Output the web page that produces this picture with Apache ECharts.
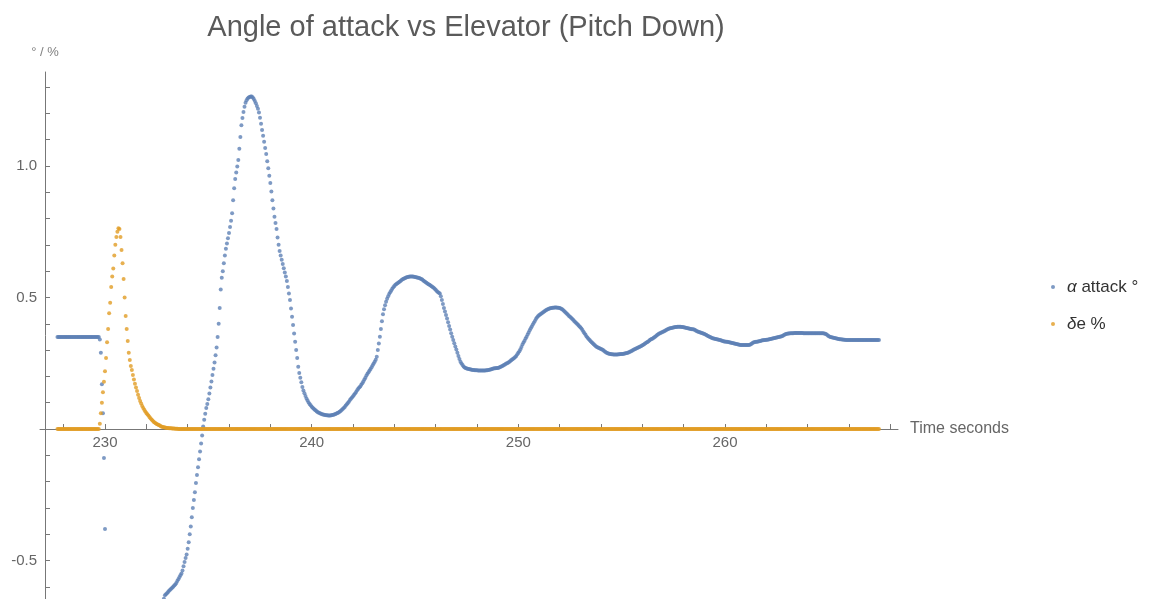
<!DOCTYPE html>
<html>
<head>
<meta charset="utf-8">
<script src="https://cdn.jsdelivr.net/npm/echarts@6/dist/echarts.min.js"></script>
<style>
  html, body { margin: 0; padding: 0; background: #ffffff; }
  #chart { width: 1168px; height: 599px; }
</style>
</head>
<body>
<div id="chart"></div>
<script>
// Logged flight data, sampled every 0.05 s from t = 227.70 s
const sampleStart = 227.7;
const sampleStep = 0.05;

// Angle of attack (degrees), one row per second
const alphaAttack = [
  0.35,0.35,0.35,0.35,0.35,0.35,
  0.35,0.35,0.35,0.35,0.35,0.35,0.35,0.35,0.35,0.35,0.35,0.35,0.35,0.35,0.35,0.35,0.35,0.35,0.35,0.35,
  0.35,0.35,0.35,0.35,0.35,0.35,0.35,0.35,0.35,0.35,0.35,0.35,0.35,0.35,0.35,0.34,0.29,0.17,0.06,-0.11,
  -0.38,-0.74,-0.90,-0.98,-1.03,-1.06,-1.08,-1.09,-1.10,-1.10,-1.10,-1.09,-1.08,-1.07,-1.06,-1.05,-1.04,-1.03,-1.02,-1.01,
  -1.00,-0.99,-0.98,-0.97,-0.96,-0.95,-0.94,-0.93,-0.92,-0.91,-0.90,-0.89,-0.88,-0.87,-0.86,-0.85,-0.84,-0.83,-0.82,-0.81,
  -0.80,-0.79,-0.78,-0.77,-0.76,-0.75,-0.74,-0.73,-0.72,-0.71,-0.70,-0.69,-0.68,-0.675,-0.67,-0.66,-0.655,-0.645,-0.632,-0.628,
  -0.624,-0.619,-0.615,-0.611,-0.607,-0.603,-0.599,-0.595,-0.591,-0.585,-0.578,-0.571,-0.563,-0.556,-0.549,-0.538,-0.522,-0.505,-0.49,-0.477,
  -0.455,-0.43,-0.40,-0.37,-0.335,-0.30,-0.27,-0.24,-0.205,-0.175,-0.145,-0.115,-0.085,-0.055,-0.025,0.01,0.035,0.058,0.08,0.095,
  0.113,0.135,0.158,0.181,0.205,0.229,0.253,0.28,0.31,0.35,0.40,0.46,0.53,0.575,0.60,0.63,0.66,0.685,0.705,0.725,
  0.745,0.768,0.792,0.82,0.87,0.915,0.95,0.975,0.998,1.023,1.065,1.11,1.155,1.182,1.205,1.225,1.24,1.25,1.256,1.26,
  1.262,1.264,1.264,1.26,1.254,1.247,1.238,1.228,1.217,1.203,1.183,1.16,1.137,1.115,1.092,1.068,1.045,1.018,0.991,0.963,
  0.935,0.903,0.87,0.838,0.807,0.783,0.76,0.728,0.70,0.677,0.66,0.643,0.627,0.611,0.595,0.58,0.563,0.54,0.515,0.49,
  0.458,0.427,0.395,0.363,0.332,0.30,0.27,0.237,0.213,0.195,0.178,0.16,0.146,0.136,0.126,0.116,0.108,0.101,0.095,0.09,
  0.085,0.081,0.077,0.073,0.07,0.067,0.064,0.062,0.06,0.058,0.056,0.055,0.054,0.053,0.052,0.052,0.051,0.051,0.051,0.052,
  0.053,0.054,0.055,0.057,0.059,0.061,0.063,0.066,0.069,0.072,0.076,0.08,0.084,0.089,0.094,0.099,0.104,0.11,0.115,0.12,
  0.125,0.13,0.135,0.141,0.147,0.153,0.158,0.162,0.168,0.174,0.181,0.188,0.195,0.203,0.21,0.216,0.222,0.228,0.235,0.242,
  0.249,0.256,0.263,0.275,0.30,0.325,0.351,0.38,0.41,0.436,0.455,0.47,0.484,0.495,0.505,0.513,0.52,0.527,0.533,0.539,
  0.544,0.548,0.551,0.554,0.557,0.56,0.563,0.566,0.569,0.571,0.573,0.575,0.577,0.578,0.579,0.58,0.58,0.58,0.58,0.579,
  0.578,0.577,0.576,0.575,0.574,0.572,0.57,0.568,0.565,0.562,0.559,0.556,0.553,0.55,0.548,0.546,0.543,0.54,0.537,0.533,
  0.529,0.525,0.521,0.518,0.515,0.505,0.49,0.475,0.46,0.447,0.433,0.42,0.406,0.392,0.378,0.364,0.351,0.338,0.326,0.314,
  0.302,0.29,0.278,0.266,0.256,0.249,0.243,0.238,0.234,0.232,0.23,0.229,0.228,0.227,0.226,0.225,0.224,0.224,0.223,0.223,
  0.223,0.222,0.222,0.222,0.222,0.222,0.222,0.222,0.222,0.223,0.223,0.224,0.225,0.226,0.227,0.229,0.23,0.231,0.231,0.232,
  0.232,0.233,0.235,0.237,0.239,0.241,0.243,0.245,0.248,0.25,0.252,0.255,0.258,0.261,0.264,0.267,0.27,0.274,0.278,0.284,
  0.29,0.296,0.303,0.312,0.321,0.329,0.336,0.344,0.351,0.359,0.367,0.375,0.383,0.39,0.397,0.404,0.411,0.418,0.424,0.429,
  0.432,0.435,0.438,0.441,0.444,0.447,0.45,0.452,0.454,0.456,0.458,0.459,0.46,0.461,0.461,0.462,0.462,0.462,0.461,0.461,
  0.46,0.458,0.456,0.453,0.45,0.446,0.442,0.438,0.434,0.43,0.427,0.423,0.419,0.415,0.411,0.407,0.403,0.399,0.395,0.391,
  0.387,0.382,0.376,0.37,0.364,0.358,0.352,0.347,0.342,0.338,0.334,0.33,0.326,0.322,0.318,0.315,0.312,0.31,0.308,0.306,
  0.304,0.302,0.3,0.297,0.294,0.291,0.289,0.287,0.286,0.285,0.284,0.284,0.283,0.283,0.283,0.283,0.283,0.284,0.284,0.285,
  0.285,0.285,0.286,0.287,0.288,0.289,0.29,0.292,0.294,0.296,0.298,0.3,0.302,0.304,0.306,0.308,0.31,0.312,0.314,0.316,
  0.318,0.32,0.323,0.326,0.329,0.331,0.334,0.337,0.34,0.342,0.344,0.347,0.35,0.353,0.356,0.359,0.362,0.364,0.366,0.368,
  0.37,0.372,0.374,0.376,0.378,0.38,0.382,0.383,0.384,0.385,0.386,0.387,0.388,0.388,0.389,0.389,0.389,0.389,0.388,0.388,
  0.387,0.386,0.385,0.384,0.383,0.382,0.381,0.38,0.379,0.379,0.378,0.376,0.374,0.372,0.37,0.369,0.367,0.366,0.364,0.363,
  0.361,0.359,0.357,0.355,0.353,0.351,0.349,0.347,0.345,0.344,0.343,0.342,0.341,0.34,0.339,0.338,0.337,0.336,0.335,0.333,
  0.333,0.332,0.332,0.331,0.33,0.329,0.328,0.327,0.326,0.325,0.324,0.323,0.322,0.321,0.32,0.319,0.319,0.319,0.319,0.319,
  0.319,0.319,0.319,0.319,0.32,0.322,0.325,0.328,0.33,0.331,0.332,0.332,0.333,0.334,0.335,0.336,0.337,0.337,0.338,0.338,
  0.339,0.339,0.34,0.341,0.342,0.343,0.344,0.345,0.346,0.347,0.348,0.349,0.35,0.351,0.352,0.353,0.355,0.357,0.359,0.361,
  0.362,0.363,0.363,0.364,0.364,0.364,0.364,0.365,0.365,0.365,0.365,0.365,0.365,0.365,0.365,0.365,0.364,0.364,0.364,0.364,
  0.364,0.364,0.364,0.364,0.364,0.364,0.364,0.364,0.364,0.364,0.364,0.364,0.364,0.364,0.364,0.364,0.363,0.362,0.36,0.357,
  0.354,0.352,0.35,0.349,0.348,0.347,0.346,0.345,0.344,0.343,0.342,0.341,0.341,0.34,0.34,0.339,0.339,0.338,0.338,0.338,
  0.338,0.338,0.338,0.338,0.338,0.338,0.338,0.338,0.338,0.338,0.338,0.338,0.338,0.338,0.338,0.338,0.338,0.338,0.338,0.338,
  0.338,0.338,0.338,0.338,0.338,0.338,0.338,0.338,0.338,0.338
];

// Elevator deflection (%), same sample clock
const deltaElevator = [
  0,0,0,0,0,0,
  0,0,0,0,0,0,0,0,0,0,0,0,0,0,0,0,0,0,0,0,
  0,0,0,0,0,0,0,0,0,0,0,0,0,0,0,0.02,0.06,0.10,0.14,0.18,
  0.22,0.27,0.33,0.38,0.44,0.48,0.54,0.58,0.61,0.66,0.70,0.73,0.75,0.763,0.76,0.73,0.68,0.63,0.57,0.50,
  0.43,0.38,0.335,0.29,0.262,0.24,0.224,0.205,0.188,0.172,0.158,0.145,0.13,0.118,0.107,0.097,0.088,0.08,0.073,0.067,
  0.061,0.056,0.051,0.046,0.041,0.036,0.032,0.028,0.025,0.022,0.019,0.017,0.015,0.013,0.011,0.009,0.008,0.007,0.006,0.005,
  0.004,0.004,0.003,0.003,0.003,0.002,0.002,0.002,0.001,0.001,0.001,0,0,0,0,0,0,0,0,0,
  0,0,0,0,0,0,0,0,0,0,0,0,0,0,0,0,0,0,0,0,
  0,0,0,0,0,0,0,0,0,0,0,0,0,0,0,0,0,0,0,0,
  0,0,0,0,0,0,0,0,0,0,0,0,0,0,0,0,0,0,0,0,
  0,0,0,0,0,0,0,0,0,0,0,0,0,0,0,0,0,0,0,0,
  0,0,0,0,0,0,0,0,0,0,0,0,0,0,0,0,0,0,0,0,
  0,0,0,0,0,0,0,0,0,0,0,0,0,0,0,0,0,0,0,0,
  0,0,0,0,0,0,0,0,0,0,0,0,0,0,0,0,0,0,0,0,
  0,0,0,0,0,0,0,0,0,0,0,0,0,0,0,0,0,0,0,0,
  0,0,0,0,0,0,0,0,0,0,0,0,0,0,0,0,0,0,0,0,
  0,0,0,0,0,0,0,0,0,0,0,0,0,0,0,0,0,0,0,0,
  0,0,0,0,0,0,0,0,0,0,0,0,0,0,0,0,0,0,0,0,
  0,0,0,0,0,0,0,0,0,0,0,0,0,0,0,0,0,0,0,0,
  0,0,0,0,0,0,0,0,0,0,0,0,0,0,0,0,0,0,0,0,
  0,0,0,0,0,0,0,0,0,0,0,0,0,0,0,0,0,0,0,0,
  0,0,0,0,0,0,0,0,0,0,0,0,0,0,0,0,0,0,0,0,
  0,0,0,0,0,0,0,0,0,0,0,0,0,0,0,0,0,0,0,0,
  0,0,0,0,0,0,0,0,0,0,0,0,0,0,0,0,0,0,0,0,
  0,0,0,0,0,0,0,0,0,0,0,0,0,0,0,0,0,0,0,0,
  0,0,0,0,0,0,0,0,0,0,0,0,0,0,0,0,0,0,0,0,
  0,0,0,0,0,0,0,0,0,0,0,0,0,0,0,0,0,0,0,0,
  0,0,0,0,0,0,0,0,0,0,0,0,0,0,0,0,0,0,0,0,
  0,0,0,0,0,0,0,0,0,0,0,0,0,0,0,0,0,0,0,0,
  0,0,0,0,0,0,0,0,0,0,0,0,0,0,0,0,0,0,0,0,
  0,0,0,0,0,0,0,0,0,0,0,0,0,0,0,0,0,0,0,0,
  0,0,0,0,0,0,0,0,0,0,0,0,0,0,0,0,0,0,0,0,
  0,0,0,0,0,0,0,0,0,0,0,0,0,0,0,0,0,0,0,0,
  0,0,0,0,0,0,0,0,0,0,0,0,0,0,0,0,0,0,0,0,
  0,0,0,0,0,0,0,0,0,0,0,0,0,0,0,0,0,0,0,0,
  0,0,0,0,0,0,0,0,0,0,0,0,0,0,0,0,0,0,0,0,
  0,0,0,0,0,0,0,0,0,0,0,0,0,0,0,0,0,0,0,0,
  0,0,0,0,0,0,0,0,0,0,0,0,0,0,0,0,0,0,0,0,
  0,0,0,0,0,0,0,0,0,0,0,0,0,0,0,0,0,0,0,0,
  0,0,0,0,0,0,0,0,0,0,0,0,0,0,0,0,0,0,0,0,
  0,0,0,0,0,0,0,0,0,0
];

const seriesNames = ['α attack °', 'δe %'];
const xTickLabels = [230, 240, 250, 260];
const xTicks = [228, 230, 232, 234, 236, 238, 240, 242, 244, 246, 248, 250, 252, 254, 256, 258, 260, 262, 264, 266, 268];
const yTickLabels = [-0.5, 0.5, 1.0];
const yTicks = [-0.6, -0.5, -0.4, -0.3, -0.2, -0.1, 0, 0.1, 0.2, 0.3, 0.4, 0.5, 0.6, 0.7, 0.8, 0.9, 1.0, 1.1, 1.2, 1.3];

const xMin = 226.855;
const xMax = 268.37;
const yMin = -0.646;
const yMax = 1.357;

const toPoints = vals => vals.map((v, i) => [+(sampleStart + i * sampleStep).toFixed(2), v]);

const axisGray = '#777777';
const labelGray = '#666666';
const font = '"Liberation Sans", Arial, sans-serif';

const gridLeft = 40;
const gridRight = 270;
const gridTop = 72;
const gridHeight = 527;
const gridWidth = 1168 - gridLeft - gridRight;
// the time axis sits on the y = 0 line: shift it up from the grid's bottom edge
const zeroOffset = -gridHeight * (0 - yMin) / (yMax - yMin);
// the value axis crosses the time axis a little right of its start
const crossOffset = -gridWidth * (227.097 - xMin) / (xMax - xMin);

const chart = echarts.init(document.getElementById('chart'), null, { renderer: 'canvas' });
chart.setOption({
  animation: false,
  backgroundColor: '#ffffff',
  textStyle: { fontFamily: font },
  title: {
    text: 'Angle of attack vs Elevator (Pitch Down)',
    left: 461,
    top: 8,
    textAlign: 'center',
    textStyle: { fontSize: 29, fontWeight: 'normal', color: '#5a5a5a', fontFamily: font }
  },
  legend: {
    orient: 'vertical',
    left: 1046,
    top: 272,
    itemWidth: 4,
    itemHeight: 4,
    itemGap: 17,
    icon: 'circle',
    data: seriesNames,
    formatter: name => '{i|' + name.charAt(0) + '}{t|' + name.slice(1) + '}',
    textStyle: {
      fontFamily: font,
      lineHeight: 20,
      rich: {
        i: { fontSize: 17, fontStyle: 'italic', color: '#333333', padding: [0, 0, 0, 7], fontFamily: font },
        t: { fontSize: 17, color: '#333333', fontFamily: font }
      }
    }
  },
  grid: { left: gridLeft, right: gridRight, top: gridTop, height: gridHeight, containLabel: false, outerBoundsMode: 'none' },
  xAxis: {
    type: 'value',
    min: xMin,
    max: xMax,
    offset: zeroOffset,
    name: 'Time seconds',
    nameLocation: 'end',
    nameGap: 12,
    nameTextStyle: { fontSize: 16, color: labelGray, fontFamily: font },
    axisLine: { show: true, onZero: false, lineStyle: { color: axisGray, width: 1 } },
    axisTick: { show: true, inside: true, length: 5, customValues: xTicks, lineStyle: { color: axisGray } },
    axisLabel: { show: true, margin: 6, fontSize: 15, color: labelGray, customValues: xTickLabels, formatter: v => String(v) },
    splitLine: { show: false }
  },
  yAxis: {
    type: 'value',
    min: yMin,
    max: yMax,
    offset: crossOffset,
    name: '° / %',
    nameLocation: 'end',
    nameGap: 13,
    nameTextStyle: { fontSize: 13, color: '#808080', fontFamily: font, align: 'center' },
    axisLine: { show: true, onZero: false, lineStyle: { color: axisGray, width: 1 } },
    axisTick: { show: true, inside: true, length: 5, customValues: yTicks, lineStyle: { color: axisGray } },
    axisLabel: { show: true, margin: 8, fontSize: 15, color: labelGray, customValues: yTickLabels, formatter: v => v.toFixed(1) },
    splitLine: { show: false }
  },
  series: [
    {
      name: seriesNames[0],
      type: 'scatter',
      data: toPoints(alphaAttack),
      symbol: 'circle',
      symbolSize: 4,
      itemStyle: { color: '#5E81B5' },
      clip: true,
      z: 3
    },
    {
      name: seriesNames[1],
      type: 'scatter',
      data: toPoints(deltaElevator),
      symbol: 'circle',
      symbolSize: 4,
      itemStyle: { color: '#E19C24' },
      clip: true,
      z: 4
    }
  ]
});
</script>
</body>
</html>
